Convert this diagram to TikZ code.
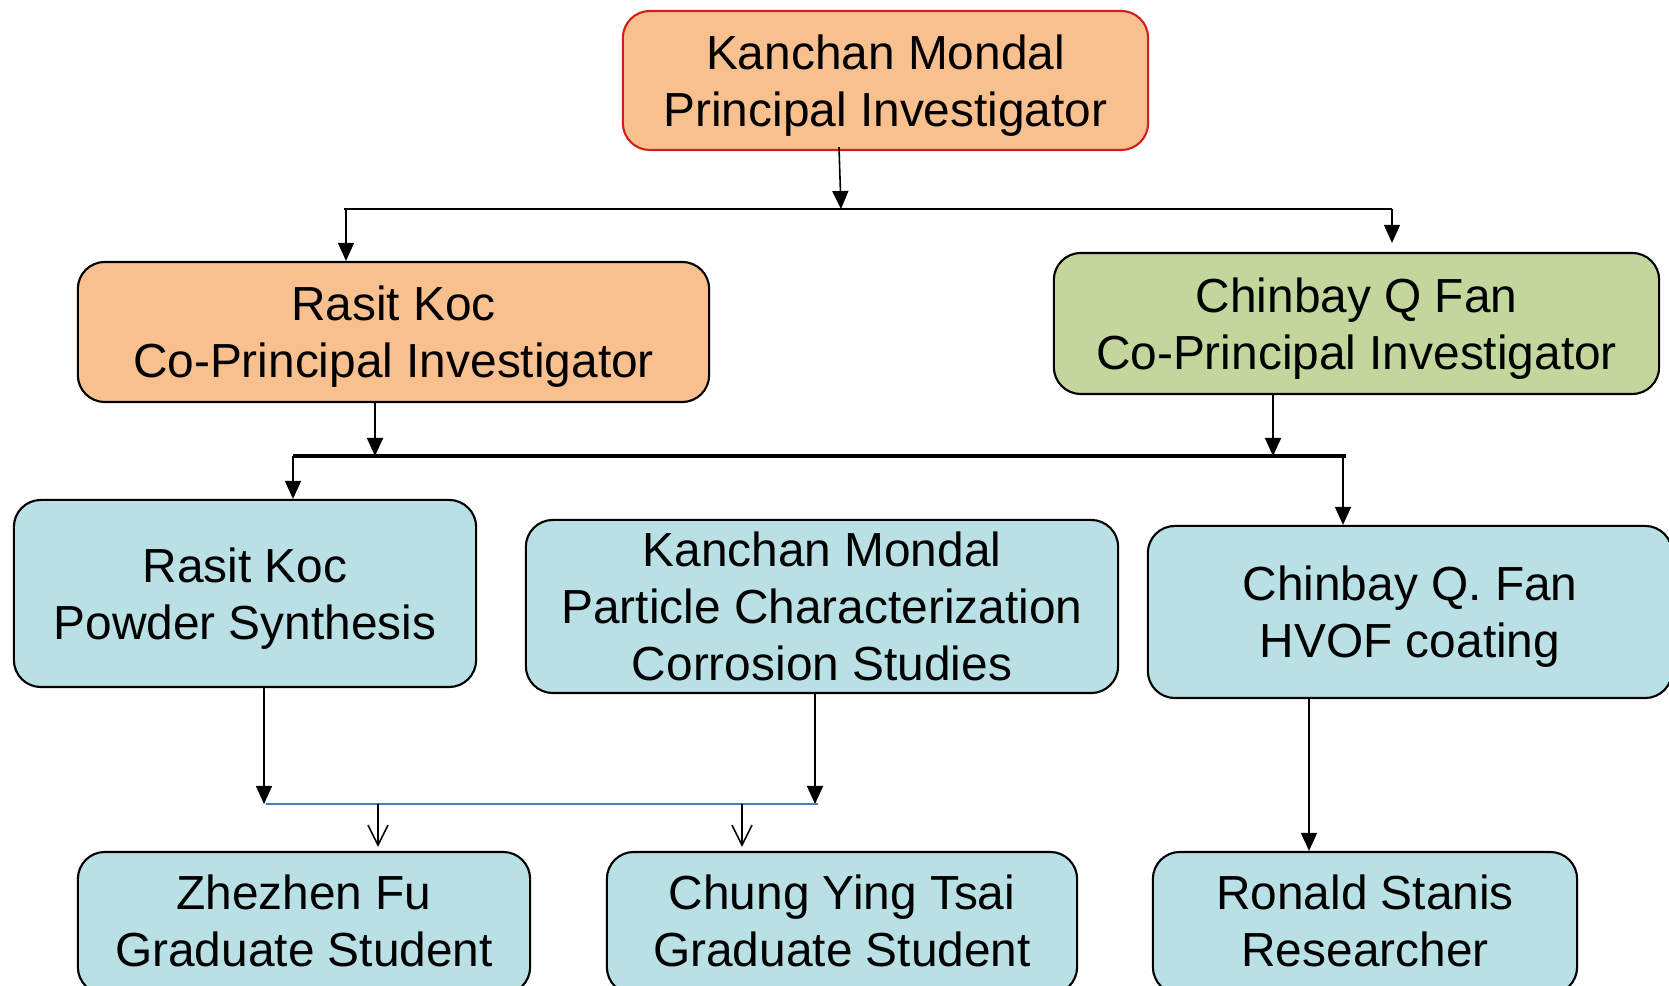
\documentclass[tikz,border=0pt]{standalone}
\usepackage{fontspec}
\setmainfont{Liberation Sans}
\usetikzlibrary{arrows.meta}
\definecolor{leadorange}{HTML}{F9C08F}
\definecolor{leadred}{HTML}{D0201C}
\definecolor{copigreen}{HTML}{C3D69B}
\definecolor{taskaqua}{HTML}{B9E0E4}
\definecolor{busblue}{HTML}{4A7EBB}
\tikzset{
x=0.01cm, y=-0.01cm, % one unit is one pixel of the chart, y grows downwards
box/.style={draw, line width=0.6pt, rounded corners=0.27cm, align=center, inner sep=0pt,
  text depth=0pt, % centre the lines without their descenders
  font=\fontsize{13.6}{16.2}\selectfont}, % sets the properties for each box
lead/.style={box, fill=leadorange},
task/.style={box, fill=taskaqua},
staff/.style={task, minimum height=1.42cm, text depth=1.4pt}, % bottom row, cut by the page edge
arr/.style={-{Triangle[length=0.18cm,width=0.16cm]}, line width=0.45pt}, % filled tip
openarr/.style={-{Straight Barb[length=0.2cm,width=0.2cm]}, line width=0.45pt}, % open tip
}
\begin{document}
\begin{tikzpicture}
    \useasboundingbox (0,0) rectangle (1669,986);
    % boxes
    \node[lead, draw=leadred, minimum width=5.25cm, minimum height=1.39cm] (pi) at (885.5,80.5) {Kanchan Mondal\\Principal Investigator};
    \node[lead, minimum width=6.31cm, minimum height=1.40cm] (rk) at (393.5,332) {Rasit Koc\\Co-Principal Investigator};
    \node[box, fill=copigreen, minimum width=6.05cm, minimum height=1.41cm] (cf) at (1356.5,323.5) {Chinbay Q Fan\\Co-Principal Investigator};
    \node[task, minimum width=4.62cm, minimum height=1.87cm] (rkps) at (245,593.5) {Rasit Koc\\Powder Synthesis};
    \node[task, minimum width=5.92cm, minimum height=1.73cm] (kmpc) at (822,606.5) {Kanchan Mondal\\Particle Characterization\\Corrosion Studies};
    \node[task, minimum width=5.24cm, minimum height=1.72cm] (cfhv) at (1410,612) {Chinbay Q. Fan\\HVOF coating};
    \node[staff, minimum width=4.52cm] (zf) at (304,923) {Zhezhen Fu\\Graduate Student};
    \node[staff, minimum width=4.70cm] (cyt) at (842,923) {Chung Ying Tsai\\Graduate Student};
    \node[staff, minimum width=4.24cm] (rs) at (1365,923) {Ronald Stanis\\Researcher};
    % junction points of the buses
    \coordinate (topin) at (841,209);
    \coordinate (topL) at (346,209);
    \coordinate (topR) at (1392,209);
    \coordinate (midL) at (293,456);
    \coordinate (midR) at (1343,456);
    \coordinate (rkin) at (375,456);
    \coordinate (cfin) at (1273,456);
    \coordinate (lowL) at (264,804);
    \coordinate (lowR) at (815,804);
    \coordinate (zfout) at (378,804);
    \coordinate (cytout) at (742,804);
    % top level
    \draw[arr] ([yshift=0.04cm]pi.south -| 839,0) -- (topin);
    \draw[line width=0.6pt] ([xshift=-0.02cm]topL) -- (topR);
    \draw[arr] (topL) -- (topL |- rk.north);
    \draw[arr, shorten >=0.09cm] (topR) -- (topR |- cf.north);
    % middle level
    \draw[arr] (rk.south -| rkin) -- (rkin);
    \draw[arr] (cf.south -| cfin) -- (cfin);
    \draw[line width=0.9pt] (midL) -- ([xshift=0.03cm]midR);
    \draw[arr] (midL) -- (midL |- rkps.north);
    \draw[arr] (midR) -- (midR |- cfhv.north);
    % lower level
    \draw[arr] (rkps.south -| lowL) -- (lowL);
    \draw[arr] (kmpc.south -| lowR) -- (lowR);
    \draw[busblue, line width=0.6pt] ([xshift=0.02cm]lowL) -- ([xshift=0.03cm]lowR);
    \draw[openarr] (zfout) -- ([yshift=0.04cm]zfout |- zf.north);
    \draw[openarr] (cytout) -- ([yshift=0.04cm]cytout |- cyt.north);
    \draw[arr] (cfhv.south -| 1309,0) -- (1309,0 |- rs.north);
\end{tikzpicture}
\end{document}
